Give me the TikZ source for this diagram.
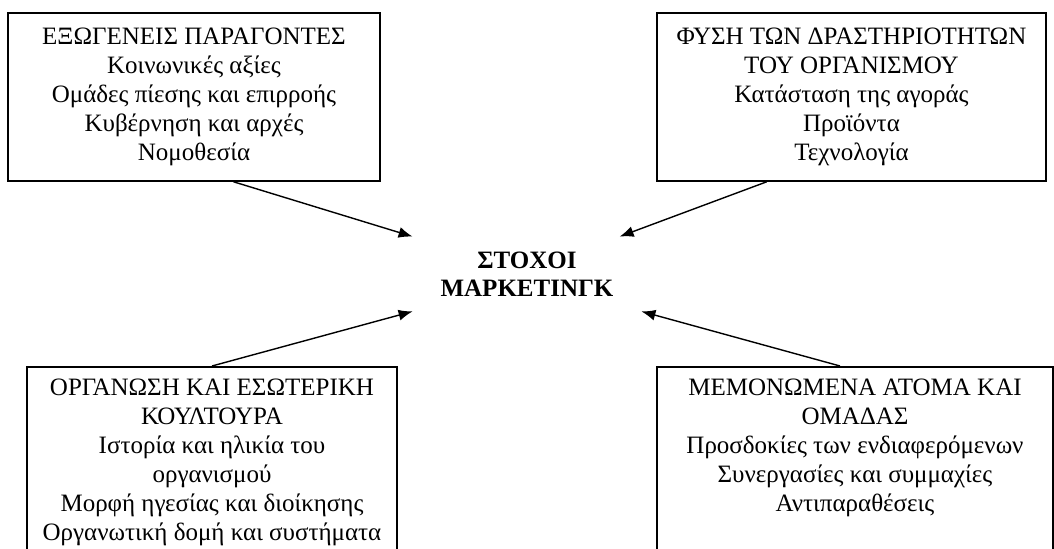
\documentclass[tikz,border=0pt]{standalone}
\usepackage{fontspec}
\setmainfont{Liberation Serif}
\usetikzlibrary{arrows.meta}
\begin{document}
\begin{tikzpicture}[x=0.5pt, y=-0.5pt,
	every node/.style={font=\fontsize{12.5}{14.5}\selectfont, align=center},
	kasten/.style={draw, line width=0.8pt, inner xsep=2pt, inner ysep=6pt},
	pfeil/.style={line width=0.7pt, ->, >={Latex[length=7pt,width=5.5pt]}}]
	\useasboundingbox (0,0) rectangle (1054,549);
	
	\node[kasten, minimum width=186pt, minimum height=84pt] (tl) at (194,97)
		{ΕΞΩΓΕΝΕΙΣ ΠΑΡΑΓΟΝΤΕΣ\\Κοινωνικές αξίες\\Ομάδες πίεσης και επιρροής\\Κυβέρνηση και αρχές\\Νομοθεσία};%oben links
	\node[kasten, minimum width=194.5pt, minimum height=84pt] (tr) at (851.5,97)
		{ΦΥΣΗ ΤΩΝ ΔΡΑΣΤΗΡΙΟΤΗΤΩΝ\\ΤΟΥ ΟΡΓΑΝΙΣΜΟΥ\\Κατάσταση της αγοράς\\Προϊόντα\\Τεχνολογία};%oben rechts
	\node[kasten, anchor=north, minimum width=185pt, text depth=20pt] (bl) at (212,366)
		{ΟΡΓΑΝΩΣΗ ΚΑΙ ΕΣΩΤΕΡΙΚΗ\\ΚΟΥΛΤΟΥΡΑ\\Ιστορία και ηλικία του\\οργανισμού\\Μορφή ηγεσίας και διοίκησης\\Οργανωτική δομή και συστήματα};%unten links
	\node[kasten, anchor=north, minimum width=198pt, text depth=40pt] (br) at (855,366)
		{ΜΕΜΟΝΩΜΕΝΑ ΑΤΟΜΑ ΚΑΙ\\ΟΜΑΔΑΣ\\Προσδοκίες των ενδιαφερόμενων\\Συνεργασίες και συμμαχίες\\Αντιπαραθέσεις};%unten rechts
	
	\node[font=\fontsize{12.5}{14}\selectfont\bfseries, minimum width=114pt, minimum height=37pt] (ziel) at (527,274)
		{ΣΤΟΧΟΙ\\ΜΑΡΚΕΤΙΝΓΚ};%Mitte
	
	\draw[pfeil] (tl.-65) -- (ziel.north west);
	\draw[pfeil] (tr.-135) -- (ziel.22);
	\draw[pfeil] (bl.north) -- (ziel.south west);
	\draw[pfeil] ([xshift=-7.5pt]br.north) -- (ziel.south east);
\end{tikzpicture}
\end{document}
